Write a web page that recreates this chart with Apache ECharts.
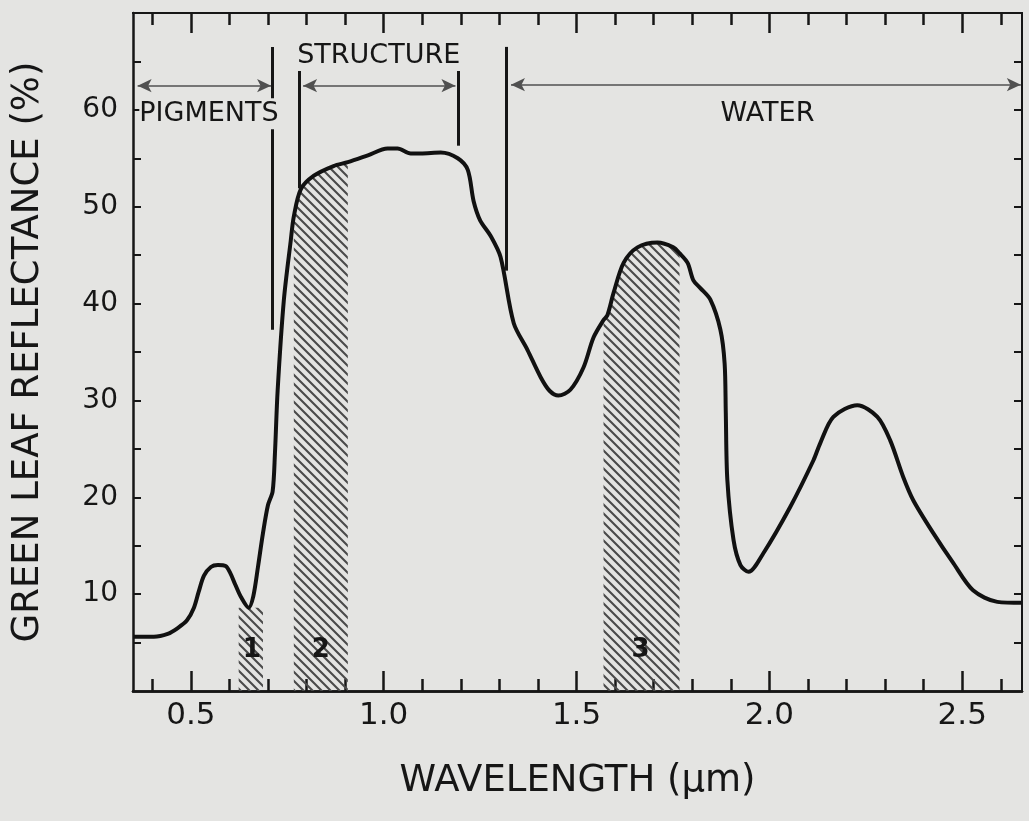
<!DOCTYPE html>
<html>
<head>
<meta charset="utf-8">
<script src="https://cdn.jsdelivr.net/npm/echarts@6/dist/echarts.min.js"></script>
<style>
  html, body { margin: 0; padding: 0; background: #e4e4e2; }
  #chart { width: 1029px; height: 821px; }
</style>
</head>
<body>
<div id="chart"></div>
<script>
// reflectance curve of a green leaf, [wavelength um, reflectance %]
var curve = [
  [0.352, 5.6], [0.404, 5.6], [0.44, 5.9], [0.466, 6.5], [0.49, 7.3], [0.508, 8.6],
  [0.52, 10.2], [0.534, 11.9], [0.552, 12.8], [0.570, 13.0], [0.590, 12.9], [0.602, 12.2],
  [0.615, 11.0], [0.630, 9.7], [0.650, 8.6], [0.662, 9.8], [0.674, 12.8], [0.687, 16.3],
  [0.700, 19.2], [0.712, 20.6], [0.718, 24.5], [0.725, 31.0], [0.741, 40.3], [0.759, 46.5],
  [0.767, 49.0], [0.785, 51.8], [0.819, 53.2], [0.870, 54.2], [0.907, 54.6], [0.959, 55.3],
  [1.010, 56.0], [1.036, 56.0], [1.070, 55.5], [1.096, 55.5], [1.148, 55.6], [1.192, 55.0],
  [1.218, 53.8], [1.233, 50.6], [1.250, 48.6], [1.277, 47.0], [1.303, 44.8], [1.337, 38.0],
  [1.373, 35.2], [1.407, 32.4], [1.430, 31.0], [1.453, 30.5], [1.484, 31.1], [1.518, 33.4],
  [1.544, 36.5], [1.570, 38.3], [1.580, 38.8], [1.596, 41.1], [1.622, 44.2], [1.658, 45.8],
  [1.710, 46.3], [1.751, 45.8], [1.767, 45.2], [1.788, 44.2], [1.803, 42.4], [1.821, 41.6],
  [1.847, 40.4], [1.873, 37.3], [1.884, 33.8], [1.887, 28.7], [1.891, 21.8], [1.907, 15.6],
  [1.925, 13.0], [1.946, 12.3], [1.984, 14.2], [2.054, 19.0], [2.114, 23.8], [2.132, 25.6],
  [2.166, 28.3], [2.228, 29.5], [2.280, 28.3], [2.313, 25.9], [2.347, 22.1], [2.373, 19.7],
  [2.425, 16.3], [2.477, 13.2], [2.528, 10.4], [2.591, 9.2], [2.655, 9.1]
];

// hatched bands (um)
var band1 = [[0.624, 8.6], [0.687, 8.6]];
var band2Range = [0.767, 0.907];
var band3Range = [1.570, 1.767];
var bandNames = [[0.658, 4.2, '1'], [0.837, 4.2, '2'], [1.666, 4.2, '3']];

// region labels
var regionLabels = [[0.547, 59.6, 'PIGMENTS'], [0.987, 65.6, 'STRUCTURE'], [1.995, 59.6, 'WATER']];
// vertical dividers [x, yFrom, yTo]
var dividers = [[0.712, 66.5, 37.3], [0.780, 64.1, 51.9], [1.194, 64.1, 56.3], [1.319, 66.5, 43.4]];
// arrows [xFrom, xTo, y]
var arrows = [[0.362, 0.708, 62.5], [0.791, 1.186, 62.5], [1.330, 2.652, 62.6]];

var xMinor = [0.4, 0.6, 0.7, 0.8, 0.9, 1.1, 1.2, 1.3, 1.4, 1.6, 1.7, 1.8, 1.9, 2.1, 2.2, 2.3, 2.4, 2.6];
var xMajor = [0.5, 1.0, 1.5, 2.0, 2.5];
var yTicks = [5, 10, 15, 20, 25, 30, 35, 40, 45, 50, 55, 60, 65];
var yLabels = [10, 20, 30, 40, 50, 60];

var X_MIN = 0.35, X_MAX = 2.655;
var font = 'DejaVu Sans';
var ink = '#161616';
var bg = '#e4e4e2';

// diagonal hatch pattern
var hatch = document.createElement('canvas');
hatch.width = 9; hatch.height = 9;
var hc = hatch.getContext('2d');
hc.strokeStyle = '#4a4a4a';
hc.lineWidth = 2.1;
hc.beginPath();
hc.moveTo(-2, -2); hc.lineTo(11, 11);
hc.moveTo(-11, -2); hc.lineTo(2, 11);
hc.moveTo(7, -2); hc.lineTo(20, 11);
hc.stroke();

function inRange(r) {
  return curve.filter(function (p) { return p[0] >= r[0] && p[0] <= r[1]; });
}

function bandSeries(data) {
  return {
    type: 'line', data: data, smooth: 0.3, showSymbol: false, silent: true, z: 1,
    lineStyle: { width: 0 },
    areaStyle: { color: { image: hatch, repeat: 'repeat' }, opacity: 1 }
  };
}

function xAx(pos, ticks, len, labels) {
  return {
    type: 'value', position: pos, min: X_MIN, max: X_MAX,
    axisLine: { show: true, lineStyle: { color: ink, width: pos === 'bottom' ? 2.5 : 2 } },
    axisTick: { show: true, inside: true, length: len, customValues: ticks, lineStyle: { color: ink, width: 2.5 } },
    axisLabel: labels ? {
      show: true, customValues: xMajor, margin: 9, color: ink, fontFamily: font, fontSize: 31,
      formatter: function (v) { return v.toFixed(1); }
    } : { show: false },
    splitLine: { show: false }
  };
}

function textPoints(list, size, weight, withBg) {
  return list.map(function (t) {
    return {
      coord: [t[0], t[1]], value: t[2],
      label: {
        show: true, position: 'inside', formatter: t[2],
        color: ink, fontFamily: font, fontSize: size, fontWeight: weight,
        backgroundColor: withBg ? bg : 'transparent', padding: withBg ? [2, 0] : 0
      }
    };
  });
}

var lines = dividers.map(function (d) {
  return [{ coord: [d[0], d[1]], symbol: 'none' }, { coord: [d[0], d[2]], symbol: 'none' }];
});
arrows.forEach(function (a) {
  lines.push([
    { coord: [a[0], a[2]], symbol: 'arrow', symbolSize: [10, 14], lineStyle: { width: 1.5, color: '#505050' } },
    { coord: [a[1], a[2]], symbol: 'arrow', symbolSize: [10, 14] }
  ]);
});

var chart = echarts.init(document.getElementById('chart'));
chart.setOption({
  backgroundColor: bg,
  animation: false,
  grid: { left: 133, right: 7, top: 13, bottom: 130 },
  xAxis: [
    xAx('bottom', xMinor, 12, false),
    Object.assign(xAx('bottom', xMajor, 20, true), {
      name: 'WAVELENGTH (\u03bcm)', nameLocation: 'middle', nameGap: 72,
      nameTextStyle: { color: ink, fontFamily: font, fontSize: 37 }
    }),
    xAx('top', xMinor, 12, false),
    xAx('top', xMajor, 20, false)
  ],
  yAxis: [
    {
      type: 'value', position: 'left', min: 0, max: 70, interval: 5,
      name: 'GREEN LEAF REFLECTANCE (%)', nameLocation: 'middle', nameGap: 86,
      nameTextStyle: { color: ink, fontFamily: font, fontSize: 37 },
      axisLine: { show: true, lineStyle: { color: ink, width: 2.5 } },
      axisTick: { show: true, inside: true, length: 8, customValues: yTicks, lineStyle: { color: ink, width: 2 } },
      axisLabel: { show: true, customValues: yLabels, margin: 15, color: ink, fontFamily: font, fontSize: 28 },
      splitLine: { show: false }
    },
    {
      type: 'value', position: 'right', min: 0, max: 70, interval: 5,
      axisLine: { show: true, lineStyle: { color: ink, width: 2 } },
      axisTick: { show: true, inside: true, length: 8, customValues: yTicks, lineStyle: { color: ink, width: 2 } },
      axisLabel: { show: false },
      splitLine: { show: false }
    }
  ],
  series: [
    bandSeries(band1),
    bandSeries(inRange(band2Range)),
    bandSeries(inRange(band3Range)),
    {
      type: 'line', data: curve, smooth: 0.3, showSymbol: false, z: 3,
      lineStyle: { color: '#111', width: 4 },
      markLine: {
        silent: true, animation: false,
        label: { show: false },
        lineStyle: { color: ink, width: 3, type: 'solid' },
        itemStyle: { color: '#444' },
        data: lines
      }
    },
    {
      type: 'line', data: [], z: 6, silent: true,
      markPoint: {
        silent: true, animation: false, symbol: 'circle', symbolSize: 0,
        itemStyle: { color: 'transparent' },
        data: textPoints(regionLabels, 27, 'normal', true).concat(textPoints(bandNames, 26, 'bold', false))
      }
    }
  ]
});
</script>
</body>
</html>
